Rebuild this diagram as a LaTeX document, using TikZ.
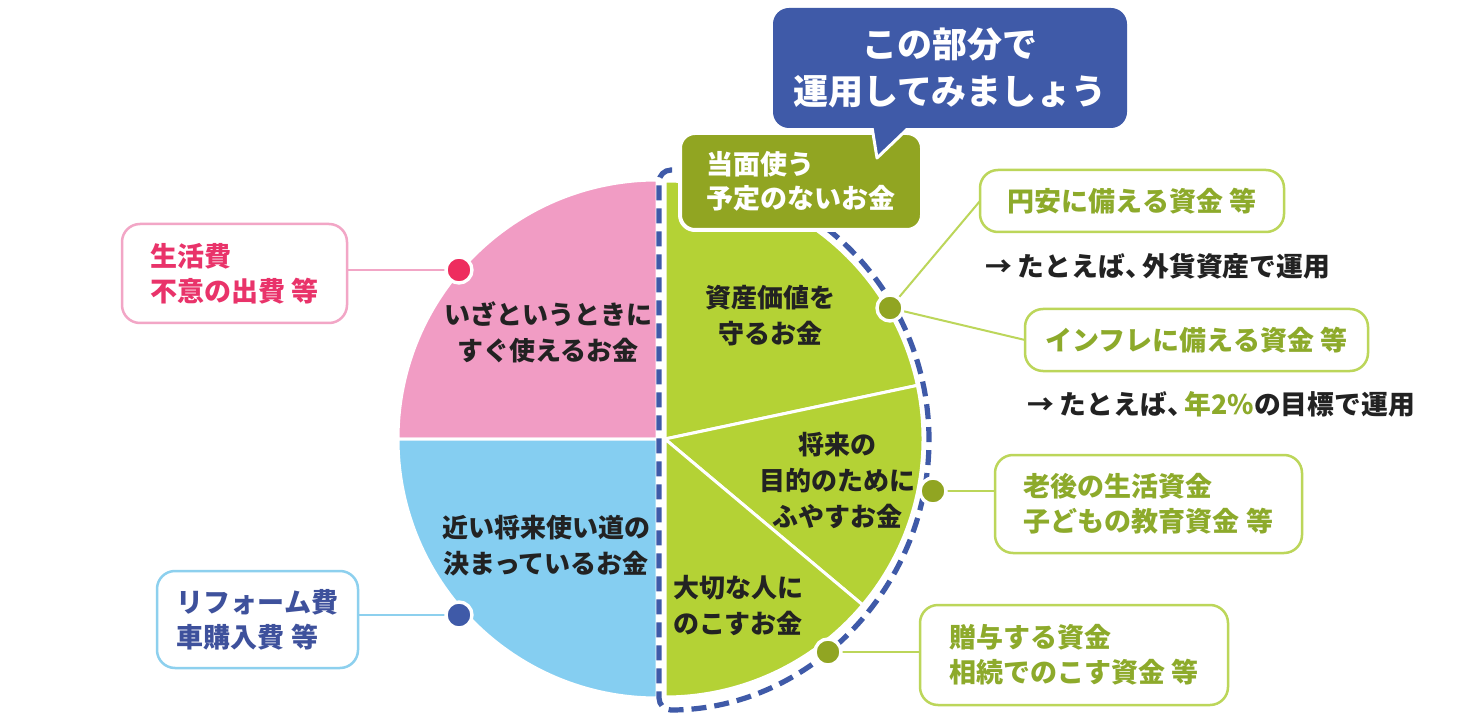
\documentclass[tikz,border=0pt]{standalone}
\usepackage{fontspec}
\setmainfont{Noto Sans CJK JP}
\definecolor{pinkfill}{HTML}{F19CC4}
\definecolor{bluefill}{HTML}{85CEF1}
\definecolor{greenfill}{HTML}{B4D235}
\definecolor{olive}{HTML}{91A522}
\definecolor{navy}{HTML}{3F5AA8}
\definecolor{pinktext}{HTML}{E9336A}
\definecolor{pinkline}{HTML}{F2A6C6}
\definecolor{pinkdot}{HTML}{EE2D5E}
\definecolor{bluetext}{HTML}{3E519C}
\definecolor{blueline}{HTML}{8DD0EE}
\definecolor{greentext}{HTML}{8DAA2B}
\definecolor{greenline}{HTML}{BCD65A}
\definecolor{txtdark}{HTML}{222222}
\begin{document}
\begin{tikzpicture}[x=0.5pt,y=-0.5pt,
  every node/.style={inner sep=0pt, outer sep=0pt},
  slice/.style={draw=white, line width=1.5pt, line join=round},
  pietext/.style={font=\fontsize{13}{18}\selectfont\bfseries, text=txtdark, align=center},
  lbox/.style={draw, fill=white, line width=1.25pt, rounded corners=9pt, align=left,
    font=\fontsize{13.5}{17.5}\selectfont\bfseries},
  dot/.style={circle, draw=white, line width=1.7pt, minimum size=13pt},
  conn/.style={line width=1pt},
  dashline/.style={draw=navy, line width=2.6pt, dash pattern=on 7.5pt off 4pt, rounded corners=6pt},
  note/.style={font=\fontsize{13.4}{17}\selectfont\bfseries, text=txtdark, anchor=west}
]
\useasboundingbox (0,0) rectangle (1460,716);
\fill[white] (0,0) rectangle (1460,716);

% pie
\coordinate (cl) at (657,439);
\coordinate (cg) at (665,439);
\filldraw[slice, fill=pinkfill] (cl) -- ++(-259,0) arc[start angle=180,end angle=270,radius=259] -- cycle;
\filldraw[slice, fill=bluefill] (cl) -- ++(0,259) arc[start angle=90,end angle=180,radius=259] -- cycle;
\filldraw[slice, fill=greenfill] (cg) -- ++(270:258) arc[start angle=270,end angle=348,radius=258] -- cycle;
\filldraw[slice, fill=greenfill] (cg) -- ++(-12:258) arc[start angle=-12,end angle=40,radius=258] -- cycle;
\filldraw[slice, fill=greenfill] (cg) -- ++(40:258) arc[start angle=40,end angle=90,radius=258] -- cycle;

% dashed outline
\draw[dashline] (672,170) -- (659,170) -- (659,710) arc[start angle=90,end angle=-53,radius=270];

% pie texts
\node[pietext] (t1) at (548,332) {いざというときに\\すぐ使えるお金};
\node[pietext] (t2) at (546,546) {近い将来使い道の\\決まっているお金};
\node[pietext] (t3) at (770,316) {資産価値を\\守るお金};
\node[pietext] (t4) at (837,480) {将来の\\目的のために\\ふやすお金};
\node[pietext, align=left] (t5) at (738,605) {大切な人に\\のこすお金};

% olive label
\node[draw=white, line width=2pt, fill=olive, rounded corners=7.5pt, minimum width=121pt,
  minimum height=48.5pt, align=left, text=white, font=\fontsize{13.5}{17}\selectfont\bfseries]
  (now) at (801,181.5) {当面使う\\予定のないお金};

% callout
\filldraw[fill=navy, draw=white, line width=1.5pt, line join=round] (870,115) -- (877,158) -- (922,115);
\node[fill=navy, rounded corners=8pt, minimum width=177pt, minimum height=60pt, align=center,
  text=white, font=\fontsize{17.5}{23.5}\selectfont\bfseries] (callout) at (950,68)
  {この部分で\\運用してみましょう};

% boxes
\node[lbox, draw=pinkline, text=pinktext, minimum width=112.5pt, minimum height=49.5pt] (pbox) at (234.5,273.5) {生活費\\不意の出費 等};
\node[lbox, draw=blueline, text=bluetext, minimum width=100.5pt, minimum height=48.5pt] (bbox) at (257.5,619.5) {リフォーム費\\車購入費 等};
\node[lbox, draw=greenline, text=greentext, minimum width=152pt, minimum height=31pt] (g1box) at (1132,201) {円安に備える資金 等};
\node[lbox, draw=greenline, text=greentext, minimum width=171.5pt, minimum height=31pt] (g2box) at (1196.5,340) {インフレに備える資金 等};
\node[lbox, draw=greenline, text=greentext, minimum width=153.5pt, minimum height=49pt] (g3box) at (1148.5,504) {老後の生活資金\\子どもの教育資金 等};
\node[lbox, draw=greenline, text=greentext, minimum width=154pt, minimum height=50pt] (g4box) at (1074,655) {贈与する資金\\相続でのこす資金 等};

% notes
\node[note] (n1) at (985,266) {→ たとえば、\kern-0.35em 外貨資産で運用};
\node[note] (n2) at (1027,404) {→ たとえば、\kern-0.35em{\color{greentext}年2\%}の目標で運用};

% dots (positions)
\coordinate (pd) at (459,270);
\coordinate (bd) at (459,615);
\coordinate (gd1) at (890,308);
\coordinate (gd2) at (933,491);
\coordinate (gd3) at (828,652);

% connectors
\draw[conn, pinkline] (pd) -- (pbox.east |- pd);
\draw[conn, blueline] (bd) -- (bbox.east |- bd);
\draw[conn, greenline] (gd1) -- (g1box.west);
\draw[conn, greenline] (gd1) -- (g2box.west);
\draw[conn, greenline] (gd2) -- (g3box.west |- gd2);
\draw[conn, greenline] (gd3) -- (g4box.west |- gd3);

\node[dot, fill=pinkdot] (pdot) at (pd) {};
\node[dot, fill=navy] (bdot) at (bd) {};
\node[dot, fill=olive] (gdot1) at (gd1) {};
\node[dot, fill=olive] (gdot2) at (gd2) {};
\node[dot, fill=olive] (gdot3) at (gd3) {};
\end{tikzpicture}
\end{document}
